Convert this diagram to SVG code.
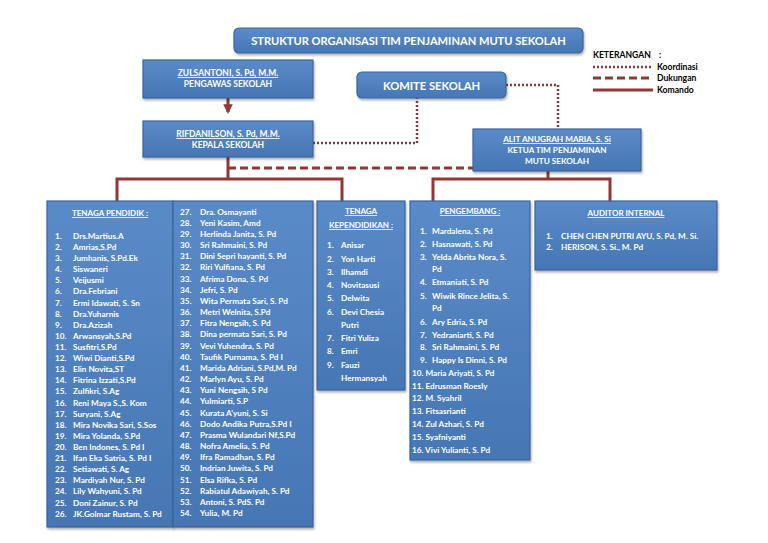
<svg xmlns="http://www.w3.org/2000/svg" width="768" height="543" viewBox="0 0 768 543">
<defs>
<linearGradient id="bg" x1="0" y1="0" x2="0" y2="1">
<stop offset="0" stop-color="#5A8BC8"/>
<stop offset="1" stop-color="#4676B4"/>
</linearGradient>
<filter id="sh" x="-5%" y="-10%" width="110%" height="125%">
<feDropShadow dx="1" dy="2" stdDeviation="1.2" flood-color="#000" flood-opacity="0.3"/>
</filter>
<marker id="arr" viewBox="0 0 10 10" refX="8" refY="5" markerWidth="3.2" markerHeight="3.2" orient="auto" markerUnits="strokeWidth">
<path d="M0,0 L10,5 L0,10 z" fill="#943634"/>
</marker>
<style>
.box{fill:url(#bg);stroke:#3A659C;stroke-width:1.2;filter:url(#sh)}
.t{font-family:Lato,"Open Sans","Liberation Sans",sans-serif;font-weight:bold;fill:#fff}
.c{text-anchor:middle}
.u{text-decoration:underline}
.l{font-size:8.2px}
.lg{font-family:Lato,"Open Sans","Liberation Sans",sans-serif;font-weight:bold;font-size:8.6px;fill:#000}
.cmd{fill:none;stroke:#943634;stroke-width:3}
.dot{fill:none;stroke:#943634;stroke-width:2.5;stroke-dasharray:2 2}
.dash{fill:none;stroke:#943634;stroke-width:3;stroke-dasharray:8 4}
</style>
</defs>
<rect width="768" height="543" fill="#fff"/>

<g id="connectors">
<line class="dash" x1="228" y1="98" x2="228" y2="112" marker-end="url(#arr)"/>
<polyline class="dot" points="313,143 417,143 417,97"/>
<polyline class="dot" points="506,85 558,85 558,129"/>
<polyline class="dash" points="228,168 473,168"/>
<polyline class="cmd" points="228,157 228,179"/>
<polyline class="cmd" points="117,201 117,179 342,179 342,201"/>
<polyline class="cmd" points="548,171 548,179"/>
<polyline class="cmd" points="433,201 433,179 610,179 610,201"/>
</g>

<g id="title">
<rect class="box" x="234" y="28" width="349" height="25" rx="5"/>
<text class="t c" x="408.5" y="45" font-size="11.1">STRUKTUR ORGANISASI TIM PENJAMINAN MUTU SEKOLAH</text>
</g>

<g id="legend">
<text class="lg" x="593" y="58">KETERANGAN</text>
<text class="lg" x="659" y="58">:</text>
<line class="dot" x1="593" y1="67" x2="653" y2="67"/>
<text class="lg" x="657" y="70">Koordinasi</text>
<line class="dash" x1="593" y1="78" x2="653" y2="78"/>
<text class="lg" x="657" y="81">Dukungan</text>
<line class="cmd" x1="593" y1="90" x2="653" y2="90"/>
<text class="lg" x="657" y="93">Komando</text>
</g>

<g id="pengawas">
<rect class="box" x="143" y="60" width="170" height="38"/>
<text class="t c u" x="228" y="76" font-size="8.5">ZULSANTONI, S. Pd, M.M.</text>
<text class="t c" x="228" y="87" font-size="8.5">PENGAWAS SEKOLAH</text>
</g>

<g id="komite">
<rect class="box" x="357" y="72" width="149" height="26" rx="5"/>
<text class="t c" x="431.5" y="89.5" font-size="11.2">KOMITE SEKOLAH</text>
</g>

<g id="kepala">
<rect class="box" x="143" y="121" width="170" height="36"/>
<text class="t c u" x="228" y="137" font-size="8.5">RIFDANILSON, S. Pd, M.M.</text>
<text class="t c" x="228" y="148" font-size="8.5">KEPALA SEKOLAH</text>
</g>

<g id="ketua">
<rect class="box" x="473" y="129" width="168" height="42"/>
<text class="t c u" x="557" y="142" font-size="8.2">ALIT ANUGRAH MARIA, S. Si</text>
<text class="t c" x="557" y="153" font-size="8.2">KETUA TIM PENJAMINAN</text>
<text class="t c" x="557" y="164" font-size="8.2">MUTU SEKOLAH</text>
</g>

<g id="tenaga-pendidik">
<rect class="box" x="47" y="201" width="126" height="326"/>
<rect class="box" x="173" y="201" width="140" height="326"/>
<text class="t c u" x="110" y="216" font-size="8">TENAGA PENDIDIK :</text>
<g class="t l">
<text x="55" y="239">1.</text><text x="73" y="239">Drs.Martius.A</text>
<text x="55" y="250">2.</text><text x="73" y="250">Amrias,S.Pd</text>
<text x="55" y="261">3.</text><text x="73" y="261">Jumhanis, S.Pd.Ek</text>
<text x="55" y="272">4.</text><text x="73" y="272">Siswaneri</text>
<text x="55" y="283">5.</text><text x="73" y="283">Veijusmi</text>
<text x="55" y="294">6.</text><text x="73" y="294">Dra.Febriani</text>
<text x="55" y="306">7.</text><text x="73" y="306">Ermi Idawati, S. Sn</text>
<text x="55" y="317">8.</text><text x="73" y="317">Dra.Yuharnis</text>
<text x="55" y="328">9.</text><text x="73" y="328">Dra.Azizah</text>
<text x="55" y="339">10.</text><text x="73" y="339">Arwansyah,S.Pd</text>
<text x="55" y="350">11.</text><text x="73" y="350">Susfitri,S.Pd</text>
<text x="55" y="361">12.</text><text x="73" y="361">Wiwi Dianti,S.Pd</text>
<text x="55" y="372">13.</text><text x="73" y="372">Elin Novita,ST</text>
<text x="55" y="383">14.</text><text x="73" y="383">Fitrina Izzati,S.Pd</text>
<text x="55" y="394">15.</text><text x="73" y="394">Zulfikri, S.Ag</text>
<text x="55" y="406">16.</text><text x="73" y="406">Reni Maya S.,S. Kom</text>
<text x="55" y="417">17.</text><text x="73" y="417">Suryani, S.Ag</text>
<text x="55" y="428">18.</text><text x="73" y="428">Mira Novika Sari, S.Sos</text>
<text x="55" y="439">19.</text><text x="73" y="439">Mira Yolanda, S.Pd</text>
<text x="55" y="450">20.</text><text x="73" y="450">Ben Indones, S. Pd I</text>
<text x="55" y="461">21.</text><text x="73" y="461">Ifan Eka Satria, S. Pd I</text>
<text x="55" y="472">22.</text><text x="73" y="472">Setiawati, S. Ag</text>
<text x="55" y="483">23.</text><text x="73" y="483">Mardiyah Nur, S. Pd</text>
<text x="55" y="494">24.</text><text x="73" y="494">Lily Wahyuni, S. Pd</text>
<text x="55" y="506">25.</text><text x="73" y="506">Doni Zainur, S. Pd</text>
<text x="55" y="517">26.</text><text x="73" y="517">JK.Golmar Rustam, S. Pd</text>

<text x="180" y="215">27.</text><text x="200" y="215">Dra. Osmayanti</text>
<text x="180" y="226">28.</text><text x="200" y="226">Yeni Kasim, Amd</text>
<text x="180" y="237">29.</text><text x="200" y="237">Herlinda Janita, S. Pd</text>
<text x="180" y="248">30.</text><text x="200" y="248">Sri Rahmaini, S. Pd</text>
<text x="180" y="259">31.</text><text x="200" y="259">Dini Sepri hayanti, S. Pd</text>
<text x="180" y="270">32.</text><text x="200" y="270">Riri Yulfiana, S. Pd</text>
<text x="180" y="282">33.</text><text x="200" y="282">Afrima Dona, S. Pd</text>
<text x="180" y="293">34.</text><text x="200" y="293">Jefri, S. Pd</text>
<text x="180" y="304">35.</text><text x="200" y="304">Wita Permata Sari, S. Pd</text>
<text x="180" y="315">36.</text><text x="200" y="315">Metri Welnita, S.Pd</text>
<text x="180" y="326">37.</text><text x="200" y="326">Fitra Nengsih, S. Pd</text>
<text x="180" y="337">38.</text><text x="200" y="337">Dina permata Sari, S. Pd</text>
<text x="180" y="349">39.</text><text x="200" y="349">Vevi Yuhendra, S. Pd</text>
<text x="180" y="360">40.</text><text x="200" y="360">Taufik Purnama, S. Pd I</text>
<text x="180" y="371">41.</text><text x="200" y="371">Marida Adriani, S.Pd,M. Pd</text>
<text x="180" y="382">42.</text><text x="200" y="382">Marlyn Ayu, S. Pd</text>
<text x="180" y="393">43.</text><text x="200" y="393">Yuni Nengsih, S Pd</text>
<text x="180" y="404">44.</text><text x="200" y="404">Yulmiarti, S.P</text>
<text x="180" y="416">45.</text><text x="200" y="416">Kurata A'yuni, S. Si</text>
<text x="180" y="427">46.</text><text x="200" y="427">Dodo Andika Putra,S.Pd I</text>
<text x="180" y="438">47.</text><text x="200" y="438">Prasma Wulandari Nf,S.Pd</text>
<text x="180" y="449">48.</text><text x="200" y="449">Nofra Amelia, S. Pd</text>
<text x="180" y="460">49.</text><text x="200" y="460">Ifra Ramadhan, S. Pd</text>
<text x="180" y="471">50.</text><text x="200" y="471">Indrian Juwita, S. Pd</text>
<text x="180" y="483">51.</text><text x="200" y="483">Elsa Rifka, S. Pd</text>
<text x="180" y="494">52.</text><text x="200" y="494">Rabiatul Adawiyah, S. Pd</text>
<text x="180" y="505">53.</text><text x="200" y="505">Antoni, S. PdS. Pd</text>
<text x="180" y="516">54.</text><text x="200" y="516">Yulia, M. Pd</text>
</g>
</g>

<g id="tenaga-kependidikan">
<rect class="box" x="317" y="201" width="88" height="189"/>
<text class="t c u" x="361" y="214" font-size="8">TENAGA</text>
<text class="t c u" x="361" y="228" font-size="8">KEPENDIDIKAN :</text>
<g class="t l">
<text x="327" y="248">1.</text><text x="341" y="248">Anisar</text>
<text x="327" y="262">2.</text><text x="341" y="262">Yon Harti</text>
<text x="327" y="275">3.</text><text x="341" y="275">Ilhamdi</text>
<text x="327" y="288">4.</text><text x="341" y="288">Novitasusi</text>
<text x="327" y="301">5.</text><text x="341" y="301">Delwita</text>
<text x="327" y="315">6.</text><text x="341" y="315">Devi Chesia</text>
<text x="341" y="328">Putri</text>
<text x="327" y="341">7.</text><text x="341" y="341">Fitri Yuliza</text>
<text x="327" y="354">8.</text><text x="341" y="354">Emri</text>
<text x="327" y="368">9.</text><text x="341" y="368">Fauzi</text>
<text x="341" y="381">Hermansyah</text>
</g>
</g>

<g id="pengembang">
<rect class="box" x="410" y="201" width="120" height="259"/>
<text class="t c u" x="470" y="214" font-size="8">PENGEMBANG :</text>
<g class="t l">
<text x="420" y="234">1.</text><text x="432" y="234">Mardalena, S. Pd</text>
<text x="420" y="247">2.</text><text x="432" y="247">Hasnawati, S. Pd</text>
<text x="420" y="260">3.</text><text x="432" y="260">Yelda Abrita Nora,  S.</text>
<text x="432" y="272">Pd</text>
<text x="420" y="285">4.</text><text x="432" y="285">Etmaniati, S. Pd</text>
<text x="420" y="299">5.</text><text x="432" y="299">Wiwik Rince Jelita, S.</text>
<text x="432" y="311">Pd</text>
<text x="420" y="325">6.</text><text x="432" y="325">Ary Edria, S. Pd</text>
<text x="420" y="338">7.</text><text x="432" y="338">Yedraniarti, S. Pd</text>
<text x="420" y="350">8.</text><text x="432" y="350">Sri Rahmaini, S. Pd</text>
<text x="420" y="363">9.</text><text x="432" y="363">Happy Is Dinni, S. Pd</text>
<text x="412" y="376">10. Maria Ariyati, S. Pd</text>
<text x="412" y="389">11. Edrusman Roesly</text>
<text x="412" y="401">12. M. Syahril</text>
<text x="412" y="414">13. Fitsasrianti</text>
<text x="412" y="427">14. Zul Azhari, S. Pd</text>
<text x="412" y="440">15. Syafniyanti</text>
<text x="412" y="453">16. Vivi Yulianti, S. Pd</text>
</g>
</g>

<g id="auditor">
<rect class="box" x="535" y="201" width="182" height="69"/>
<text class="t c u" x="626" y="216" font-size="8">AUDITOR INTERNAL</text>
<g class="t l">
<text x="546" y="239">1.</text><text x="561" y="239">CHEN CHEN PUTRI AYU, S. Pd, M. Si.</text>
<text x="546" y="250">2.</text><text x="561" y="250">HERISON, S. Si., M. Pd</text>
</g>
</g>
</svg>
